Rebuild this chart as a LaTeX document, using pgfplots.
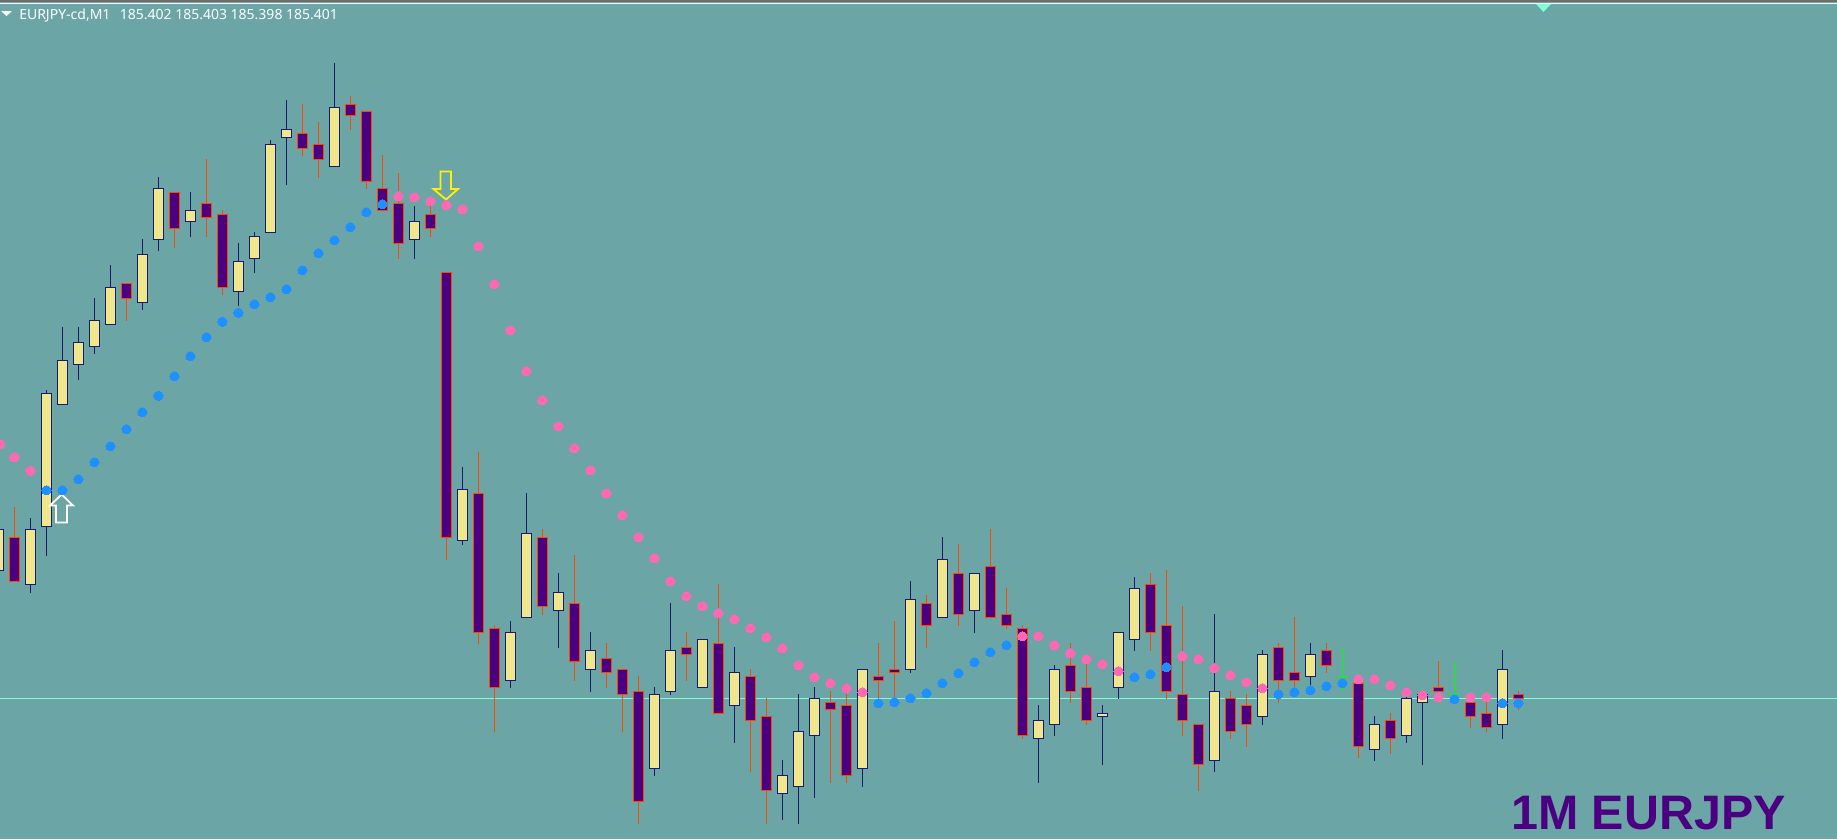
\documentclass[border=0pt]{standalone}
\usepackage{fontspec}
\usepackage{pgfplots}
\usepackage{pgfplotstable}
\pgfplotsset{compat=1.18}
\setmainfont{Liberation Sans}
\newfontfamily\hdr{Noto Sans}
\definecolor{bgc}{HTML}{6BA5A5}
\definecolor{bullfill}{HTML}{F0E68C}
\definecolor{bullline}{HTML}{191970}
\definecolor{bearfill}{HTML}{4B0082}
\definecolor{bearline}{HTML}{FF4500}
\definecolor{aqua}{HTML}{7FFFD4}
\definecolor{pinkdot}{HTML}{FF69B4}
\definecolor{bluedot}{HTML}{1E90FF}
\definecolor{stripc}{HTML}{6E6E6E}
% k = bar number (x pixel = 14.5 + 16 k); h, t, b, l = wick top, body top, body bottom, wick bottom (pixels from the top)
\pgfplotstableread{
k h t b l
-1 529.3 529.3 570.7 570.7
1 518.3 529.3 584.3 592.7
2 390 393.3 526.7 556
3 327.3 360.3 404.7 404.7
4 327.3 342.3 364.7 380
5 298.3 320.3 346.7 353.7
6 265.3 287.3 324.7 324.7
8 239 254.7 302.3 310
9 177 188.3 239.3 251
11 192 210.3 221.7 237
14 243 261.3 291.7 306
15 232.3 236.3 258.7 273
16 140 144.3 232.7 232.7
17 100 129.3 137.7 185
20 63 107.3 166.7 166.7
25 206 221.3 239.7 259
28 467 489.3 540.7 545
31 621 632.3 680.7 687.7
32 493 533.3 617.7 617.7
34 573 592.3 610.7 648
36 632 650.3 669.7 692
40 687 694.3 768.7 776
41 603 650.3 691.7 695
43 639.3 639.3 687.7 687.7
45 647 672.3 705.7 742.7
48 760 775.3 793.7 820
49 694 731.3 786.7 823.7
50 687 698.3 735.7 797.7
53 669.3 669.3 768.7 787
56 581 599.3 669.3 673
58 537 559.3 617.7 617.7
60 573.3 573.3 610.7 632.7
64 705 720.3 738.7 783
65 665 669.3 724.7 736
68 705 713.3 716.7 765
69 632.3 632.3 687.7 699
70 577 588.3 639.7 651
75 614 691.3 760.7 772
78 650 654.3 716.7 724.7
81 643 654.3 676.7 690
85 716 724.3 749.7 761
87 695 698.3 735.7 743
88 694.3 694.3 702.3 765
93 650 669.3 724.3 739
}\bull
\pgfplotstableread{
k h t b l
0 507.3 537.3 581.7 581.7
7 283.7 283.7 298.7 321
10 192.3 192.3 228.7 247.7
12 159 203.7 217.7 237
13 210.3 214.3 287.3 295
18 104 133.7 148.7 155.7
19 122 144.3 159.7 177.7
21 96 104.3 115.7 130
22 111.7 111.7 181.7 189
23 155 188.3 210.7 210.7
24 173 203.3 243.7 259
26 200 214.3 228.7 237
27 272.3 272.3 537.7 560
29 452.3 493.3 632.3 643.7
30 625 628.3 687.7 731.7
33 529 537.3 606.7 615
35 555 603.3 661.7 680.7
37 643 658.3 672.7 687.7
38 669.3 669.3 694.7 731.7
39 676 691.3 801.7 823.7
42 632 647.3 654.7 680.7
44 584 643.3 713.7 713.7
46 669 676.3 720.7 771.7
47 698 716.3 790.7 823.7
51 691 702.3 709.7 782.7
52 694 705.3 775.7 783
54 643 676.3 680.7 700
55 621 669.3 672.7 700
57 595 603.3 625.7 648
59 544 573.3 614.7 626
61 529 566.3 617.7 617.7
62 588 614.3 625.7 628.7
63 625 628.3 735.7 739
66 643.3 665.3 691.7 702.7
67 660 687.3 720.7 724.7
71 573 584.3 632.7 651
72 570 625.3 691.7 699
73 606 694.3 720.7 735.7
74 724.3 724.3 764.7 790.7
76 691 698.3 731.7 739
77 694 705.3 724.7 747
79 643 647.3 680.7 702.7
80 617 672.3 680.7 690
82 643 650.3 665.7 673
84 683.3 683.3 746.7 757.7
86 713 720.3 738.7 753.7
89 661 687.3 691.7 700
91 698 702.3 716.7 727.7
92 700 713.3 727.7 731.7
94 691.3 694.3 698.7 709.7
}\bear
\pgfplotstableread{
k h m l
83 647 676.7 691.7
90 661 694.7 703
}\doji
\pgfplotstableread{
k y
-0.9 444.3
0 457.3
1 470.7
24 196.3
25 197.3
26 201.3
27 205.3
28 209.3
29 246.3
30 284.3
31 330.3
32 371.3
33 400.3
34 426.3
35 448.3
36 470.3
37 493.3
38 515.3
39 537.3
40 558.3
41 581.3
42 596.3
43 606.3
44 613.3
45 619.3
46 628.3
47 637.3
48 648.3
49 665.3
50 677.3
51 683.3
52 688.3
53 692.3
63 636.3
64 636.3
65 645.3
66 653.3
67 659.3
68 664.3
69 671.3
73 656.3
74 659.3
75 668.3
76 675.3
77 682.3
78 688.3
84 679.3
85 679.3
86 685.3
87 692.3
88 695.3
89 697.3
91 697.3
92 697.3
}\pinkd
\pgfplotstableread{
k y
2 490.3
3 490.3
4 479.3
5 462.3
6 446.3
7 429.3
8 412.3
9 395.7
10 376.3
11 356.3
12 337.3
13 321.7
14 312.7
15 304.3
16 297.3
17 289.3
18 270.3
19 253.3
20 240.3
21 227.3
22 212.3
23 204.3
54 703.3
55 702.3
56 698.3
57 693.3
58 683.3
59 673.3
60 662.3
61 652.3
62 645.3
70 677.3
71 674.3
72 667.3
79 694.3
80 692.3
81 690.3
82 686.3
83 683.3
90 699.3
93 703.3
94 703.3
}\blued
\pgfplotsset{
  wick/.style={draw=none,mark=none,forget plot,
    error bars/.cd,y dir=plus,y explicit,error mark=none,
    error bar style={color=#1,line width=0.75pt,solid}},
  bodyouter/.style={draw=none,mark=none,forget plot,
    error bars/.cd,y dir=plus,y explicit,error mark=none,
    error bar style={color=#1,line width=8.25pt,solid}},
  bodyinner/.style={draw=none,mark=none,forget plot,
    error bars/.cd,y dir=plus,y explicit,error mark=none,
    error bar style={color=#1,line width=6.75pt,solid}},
}
\begin{document}
\begin{tikzpicture}
\useasboundingbox (0,0) rectangle (1377.75pt,629.25pt);
\begin{axis}[
  at={(0,0)},anchor=south west,
  scale only axis,width=1377.75pt,height=629.25pt,
  xmin=0,xmax=1837,ymin=0,ymax=839,y dir=reverse,
  axis lines=none,ticks=none,
  axis background/.style={fill=bgc},
  clip=true,
]
% level line
\addplot[aqua,line width=0.9pt,forget plot] coordinates {(0,698.3) (1837,698.3)};
% wicks
\addplot[wick=bullline] table[x expr=14.5+16*\thisrow{k},y=h,y error plus expr=\thisrow{l}-\thisrow{h}] {\bull};
\addplot[wick=bearline] table[x expr=14.5+16*\thisrow{k},y=h,y error plus expr=\thisrow{l}-\thisrow{h}] {\bear};
\addplot[wick=green] table[x expr=14.5+16*\thisrow{k},y=h,y error plus expr=\thisrow{l}-\thisrow{h}] {\doji};
\addplot[draw=none,mark=none,forget plot,error bars/.cd,x dir=both,x fixed=5.5,error mark=none,
  error bar style={color=green,line width=0.75pt,solid}]
  table[x expr=14.5+16*\thisrow{k},y=m] {\doji};
% bodies
\addplot[bodyouter=bullline] table[x expr=14.5+16*\thisrow{k},y expr=\thisrow{t}-0.5,y error plus expr=\thisrow{b}-\thisrow{t}+1] {\bull};
\addplot[bodyinner=bullfill] table[x expr=14.5+16*\thisrow{k},y expr=\thisrow{t}+0.5,y error plus expr=\thisrow{b}-\thisrow{t}-1] {\bull};
\addplot[bodyouter=bearline] table[x expr=14.5+16*\thisrow{k},y expr=\thisrow{t}-0.5,y error plus expr=\thisrow{b}-\thisrow{t}+1] {\bear};
\addplot[bodyinner=bearfill] table[x expr=14.5+16*\thisrow{k},y expr=\thisrow{t}+0.5,y error plus expr=\thisrow{b}-\thisrow{t}-1] {\bear};
% dots
\addplot[only marks,color=pinkdot,mark=*,mark size=3.5pt,mark options={draw=pinkdot,fill=pinkdot,line width=0pt},forget plot]
  table[x expr=14.4+16*\thisrow{k},y=y] {\pinkd};
\addplot[only marks,color=bluedot,mark=*,mark size=3.5pt,mark options={draw=bluedot,fill=bluedot,line width=0pt},forget plot]
  table[x expr=14.4+16*\thisrow{k},y=y] {\blued};
% arrows
\addplot[yellow,line width=1.35pt,line join=miter,forget plot] coordinates {
  (440.5,171.5) (451,171.5) (451,189) (458,189) (446,199.5) (433.5,189) (440.5,189) (440.5,171.5)} -- cycle;
\addplot[white,line width=1.35pt,line join=miter,forget plot] coordinates {
  (61.7,494.5) (73,505.5) (67,505.5) (67,522.5) (56,522.5) (56,505.5) (50,505.5) (61.7,494.5)} -- cycle;
% top frame marks
\addplot[stripc,line width=1.5pt,forget plot] coordinates {(0,1) (1837,1)};
\addplot[white,line width=0.75pt,forget plot] coordinates {(0,3.5) (1837,3.5)};
\addplot[draw=none,fill=aqua,forget plot] coordinates {(1536,4) (1551,4) (1543.5,12)} -- cycle;
\addplot[draw=none,fill=white,forget plot] coordinates {(1,11) (12,11) (6.5,16)} -- cycle;
% text
\node[anchor=base west,inner sep=0pt,text=white] at (axis cs:19,19.5)
  {\hdr\fontsize{10.5pt}{12pt}\selectfont EURJPY-cd,M1\hspace{7pt}185.402 185.403 185.398 185.401};
\node[anchor=base west,inner sep=0pt,text=bearfill] at (axis cs:1511,829.5)
  {\fontsize{36.3pt}{40pt}\selectfont\bfseries 1M EURJPY};
\end{axis}
\end{tikzpicture}
\end{document}
